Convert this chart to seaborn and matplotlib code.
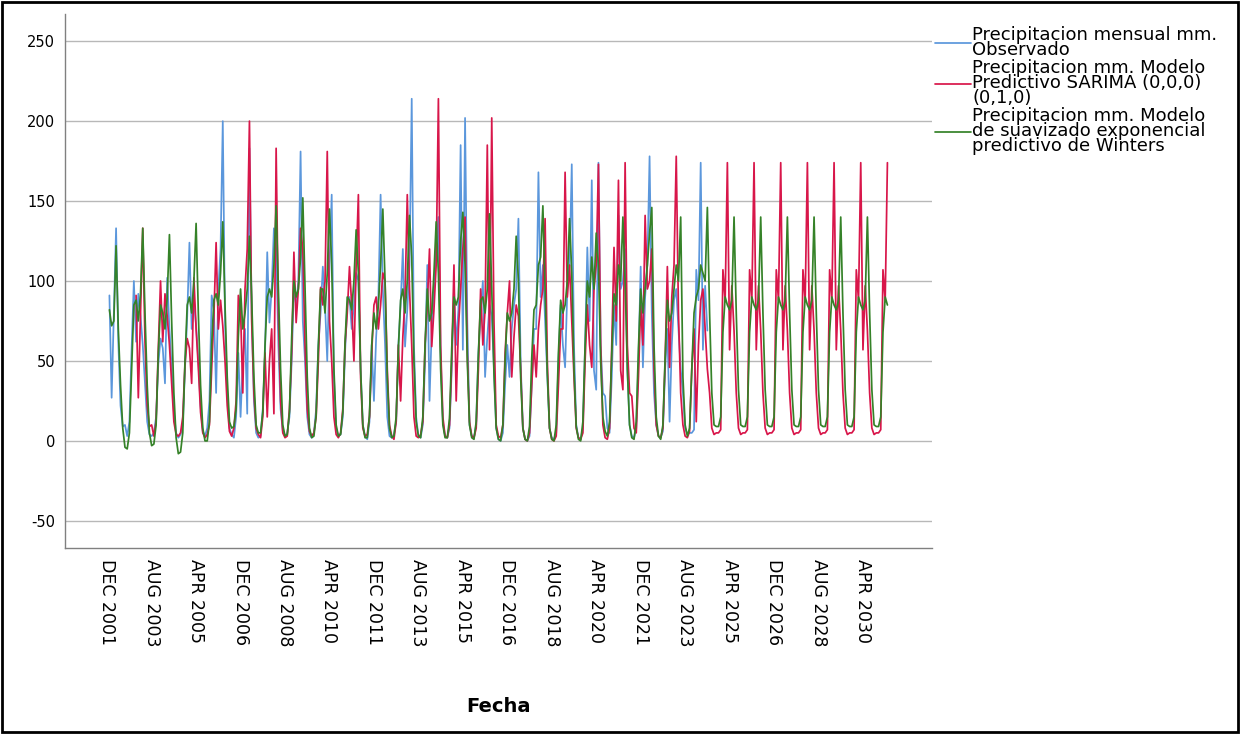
import numpy as np
import pandas as pd
import matplotlib
matplotlib.use("Agg")
import matplotlib.pyplot as plt
import seaborn as sns
from matplotlib.patches import Rectangle

# Precipitacion mensual observada (mm), ene 2002 - jun 2024, una fila por año
obs_2002 = [91, 27, 80, 133, 62, 22, 9, 10, 3, 12, 58, 100]
obs_2003 = [62, 92, 78, 60, 36, 12, 4, 3, 5, 15, 48, 64]
obs_2004 = [58, 36, 102, 70, 46, 18, 5, 2, 4, 10, 45, 78]
obs_2005 = [124, 70, 88, 72, 50, 22, 6, 3, 8, 25, 91, 82]
obs_2006 = [30, 95, 120, 200, 75, 30, 8, 4, 2, 15, 55, 15]
obs_2007 = [50, 70, 17, 183, 80, 25, 5, 2, 3, 20, 55, 118]
obs_2008 = [74, 95, 133, 120, 60, 20, 6, 3, 5, 15, 50, 96]
obs_2009 = [85, 100, 181, 75, 50, 15, 4, 2, 5, 20, 60, 80]
obs_2010 = [109, 85, 50, 110, 154, 40, 8, 3, 4, 15, 55, 85]
obs_2011 = [90, 70, 85, 105, 100, 45, 10, 3, 1, 12, 60, 25]
obs_2012 = [65, 90, 154, 95, 60, 15, 3, 2, 4, 12, 60, 85]
obs_2013 = [120, 59, 82, 110, 214, 60, 15, 3, 2, 10, 50, 110]
obs_2014 = [25, 70, 95, 120, 140, 55, 12, 3, 2, 8, 45, 95]
obs_2015 = [60, 82, 185, 57, 202, 75, 10, 3, 2, 10, 55, 80]
obs_2016 = [100, 40, 65, 85, 78, 45, 8, 1, 0, 5, 35, 60]
obs_2017 = [40, 70, 85, 95, 139, 50, 8, 1, 0, 3, 35, 70]
obs_2018 = [70, 168, 90, 110, 75, 40, 8, 2, 1, 5, 50, 85]
obs_2019 = [60, 46, 95, 110, 173, 60, 10, 2, 1, 8, 60, 121]
obs_2020 = [75, 163, 44, 32, 174, 60, 30, 28, 8, 5, 40, 85]
obs_2021 = [60, 141, 95, 100, 120, 45, 10, 3, 2, 8, 50, 109]
obs_2022 = [46, 90, 110, 178, 80, 30, 10, 3, 2, 6, 45, 70]
obs_2023 = [12, 60, 88, 95, 70, 45, 30, 8, 4, 5, 5, 7]
obs_2024 = [107, 88, 174, 57, 97, 69]

# Modelo SARIMA (0,0,0)(0,1,0): ene 2003 - mar 2031
sar_2003 = [91, 27, 80, 133, 62, 22, 9, 10, 3, 12, 58, 100]
sar_2004 = [62, 92, 78, 60, 36, 12, 4, 3, 5, 15, 48, 64]
sar_2005 = [58, 36, 102, 70, 46, 18, 5, 2, 4, 10, 45, 78]
sar_2006 = [124, 70, 88, 72, 50, 22, 6, 3, 8, 25, 91, 82]
sar_2007 = [30, 95, 120, 200, 75, 30, 8, 4, 2, 15, 55, 15]
sar_2008 = [50, 70, 17, 183, 80, 25, 5, 2, 3, 20, 55, 118]
sar_2009 = [74, 95, 133, 120, 60, 20, 6, 3, 5, 15, 50, 96]
sar_2010 = [85, 100, 181, 75, 50, 15, 4, 2, 5, 20, 60, 80]
sar_2011 = [109, 85, 50, 110, 154, 40, 8, 3, 4, 15, 55, 85]
sar_2012 = [90, 70, 85, 105, 100, 45, 10, 3, 1, 12, 60, 25]
sar_2013 = [65, 90, 154, 95, 60, 15, 3, 2, 4, 12, 60, 85]
sar_2014 = [120, 59, 82, 110, 214, 60, 15, 3, 2, 10, 50, 110]
sar_2015 = [25, 70, 95, 120, 140, 55, 12, 3, 2, 8, 45, 95]
sar_2016 = [60, 82, 185, 57, 202, 75, 10, 3, 2, 10, 55, 80]
sar_2017 = [100, 40, 65, 85, 78, 45, 8, 1, 0, 5, 35, 60]
sar_2018 = [40, 70, 85, 95, 139, 50, 8, 1, 0, 3, 35, 70]
sar_2019 = [70, 168, 90, 110, 75, 40, 8, 2, 1, 5, 50, 85]
sar_2020 = [60, 46, 95, 110, 173, 60, 10, 2, 1, 8, 60, 121]
sar_2021 = [75, 163, 44, 32, 174, 60, 30, 28, 8, 5, 40, 85]
sar_2022 = [60, 141, 95, 100, 120, 45, 10, 3, 2, 8, 50, 109]
sar_2023 = [46, 90, 110, 178, 80, 30, 10, 3, 2, 6, 45, 70]
sar_2024 = [12, 60, 88, 95, 70, 45, 30, 8, 4, 5, 5, 7]
sar_2025 = [107, 88, 174, 57, 97, 69, 30, 8, 4, 5, 5, 7]
sar_2026 = [107, 88, 174, 57, 97, 69, 30, 8, 4, 5, 5, 7]
sar_2027 = [107, 88, 174, 57, 97, 69, 30, 8, 4, 5, 5, 7]
sar_2028 = [107, 88, 174, 57, 97, 69, 30, 8, 4, 5, 5, 7]
sar_2029 = [107, 88, 174, 57, 97, 69, 30, 8, 4, 5, 5, 7]
sar_2030 = [107, 88, 174, 57, 97, 69, 30, 8, 4, 5, 5, 7]
sar_2031 = [107, 88, 174]

# Suavizado exponencial de Winters: ene 2002 - mar 2031
win_2002 = [82, 72, 75, 122, 70, 35, 8, -4, -5, 5, 45, 85]
win_2003 = [88, 75, 92, 133, 80, 35, 5, -3, -2, 10, 55, 85]
win_2004 = [80, 70, 90, 129, 75, 30, 2, -8, -7, 5, 50, 85]
win_2005 = [90, 80, 100, 136, 80, 35, 8, 0, 0, 12, 60, 88]
win_2006 = [92, 85, 105, 137, 85, 40, 12, 8, 9, 20, 65, 95]
win_2007 = [70, 80, 95, 128, 90, 40, 10, 5, 5, 18, 60, 90]
win_2008 = [95, 90, 110, 147, 95, 45, 10, 3, 4, 18, 65, 100]
win_2009 = [90, 95, 115, 152, 95, 40, 8, 2, 3, 16, 60, 95]
win_2010 = [95, 80, 105, 145, 110, 45, 10, 3, 4, 18, 62, 90]
win_2011 = [88, 82, 100, 132, 105, 45, 10, 2, 2, 16, 60, 80]
win_2012 = [70, 85, 110, 145, 100, 40, 8, 2, 3, 15, 58, 88]
win_2013 = [95, 80, 100, 141, 115, 50, 12, 3, 2, 15, 60, 95]
win_2014 = [75, 80, 105, 137, 105, 45, 10, 2, 2, 14, 58, 90]
win_2015 = [85, 90, 125, 143, 110, 50, 10, 2, 1, 12, 55, 88]
win_2016 = [90, 80, 95, 142, 95, 42, 8, 1, 0, 10, 50, 80]
win_2017 = [75, 80, 95, 128, 100, 40, 8, 1, 0, 9, 52, 82]
win_2018 = [85, 110, 115, 147, 95, 42, 8, 1, 0, 10, 55, 88]
win_2019 = [80, 85, 100, 139, 105, 45, 9, 1, 0, 12, 60, 100]
win_2020 = [90, 115, 95, 130, 110, 50, 15, 6, 3, 12, 55, 92]
win_2021 = [85, 110, 100, 140, 100, 45, 10, 2, 1, 12, 58, 95]
win_2022 = [80, 95, 110, 130, 146, 60, 15, 3, 1, 10, 52, 88]
win_2023 = [75, 80, 95, 110, 100, 140, 40, 10, 3, 8, 45, 80]
win_2024 = [90, 95, 110, 105, 100, 146, 80, 30, 10, 9, 9, 15]
win_2025 = [68, 90, 85, 82, 88, 140, 80, 32, 10, 9, 9, 15]
win_2026 = [68, 90, 85, 82, 88, 140, 80, 32, 10, 9, 9, 15]
win_2027 = [68, 90, 85, 82, 88, 140, 80, 32, 10, 9, 9, 15]
win_2028 = [68, 90, 85, 82, 88, 140, 80, 32, 10, 9, 9, 15]
win_2029 = [68, 90, 85, 82, 88, 140, 80, 32, 10, 9, 9, 15]
win_2030 = [68, 90, 85, 82, 88, 140, 80, 32, 10, 9, 9, 15]
win_2031 = [68, 90, 85]

tick_labels = ["DEC 2001", "AUG 2003", "APR 2005", "DEC 2006", "AUG 2008",
               "APR 2010", "DEC 2011", "AUG 2013", "APR 2015", "DEC 2016",
               "AUG 2018", "APR 2020", "DEC 2021", "AUG 2023", "APR 2025",
               "DEC 2026", "AUG 2028", "APR 2030"]

serie_obs = "Precipitacion mensual mm.\nObservado"
serie_sar = "Precipitacion mm. Modelo\nPredictivo SARIMA (0,0,0)\n(0,1,0)"
serie_win = "Precipitacion mm. Modelo\nde suavizado exponencial\npredictivo de Winters"


def juntar(prefijo, inicio, fin):
    vals = []
    for year in range(inicio, fin + 1):
        vals += globals()[f"{prefijo}_{year}"]
    return vals


observado = juntar("obs", 2002, 2024)
sarima = juntar("sar", 2003, 2031)
winters = juntar("win", 2002, 2031)

# indice mensual: 0 = DEC 2001
df = pd.concat([
    pd.DataFrame({"t": np.arange(1, 1 + len(observado)), "valor": observado, "serie": serie_obs}),
    pd.DataFrame({"t": np.arange(13, 13 + len(sarima)), "valor": sarima, "serie": serie_sar}),
    pd.DataFrame({"t": np.arange(1, 1 + len(winters)), "valor": winters, "serie": serie_win}),
])

sns.set_style("white")
plt.rcParams["font.family"] = ["DejaVu Sans"]
plt.rcParams["axes.unicode_minus"] = False
plt.rcParams["text.color"] = "black"
plt.rcParams["xtick.color"] = "black"
plt.rcParams["ytick.color"] = "black"
plt.rcParams["axes.labelcolor"] = "black"

fig = plt.figure(figsize=(12.42, 7.34), dpi=100)
ax = fig.add_axes([0.0523, 0.2534, 0.698, 0.7275])

palette = {serie_obs: "#5b97dc", serie_sar: "#d8164a", serie_win: "#358228"}
sns.lineplot(data=df, x="t", y="valor", hue="serie",
             hue_order=[serie_obs, serie_sar, serie_win], palette=palette,
             estimator=None, sort=False, linewidth=1.25, ax=ax)

ax.set_xlim(-19, 371)
ax.set_ylim(-67, 267)
ax.set_yticks([-50, 0, 50, 100, 150, 200, 250])
ax.set_xticks(np.arange(0, 20 * len(tick_labels), 20))
ax.set_xticklabels(tick_labels, rotation=270, fontsize=12.5)
ax.tick_params(axis="y", labelsize=10.5, length=0, pad=7, labelcolor="black")
ax.tick_params(axis="x", length=0, pad=8, labelcolor="black")
ax.yaxis.grid(True, color="#b8b8b8", linewidth=1)
ax.xaxis.grid(False)
ax.set_axisbelow(True)
for side in ["top", "right"]:
    ax.spines[side].set_visible(False)
for side in ["left", "bottom"]:
    ax.spines[side].set_color("#808080")
    ax.spines[side].set_linewidth(1)

ax.set_ylabel("")
ax.set_xlabel("Fecha", fontsize=14, fontweight="bold", color="black")
ax.xaxis.set_label_coords(0.5, -0.279)

handles, labels = ax.get_legend_handles_labels()
leg = ax.legend(handles, labels, loc="upper left", bbox_to_anchor=(0.999, 0.985),
                frameon=False, fontsize=13, handlelength=2.0, handletextpad=0.08,
                labelspacing=0.02, borderaxespad=0, borderpad=0.2)
for txt in leg.get_texts():
    txt.set_linespacing(0.78)
    txt.set_color("black")

fig.patches.append(Rectangle((0.002, 0.003), 0.995, 0.994, transform=fig.transFigure,
                             fill=False, edgecolor="black", linewidth=2))

fig.savefig("out.png", dpi=100)
